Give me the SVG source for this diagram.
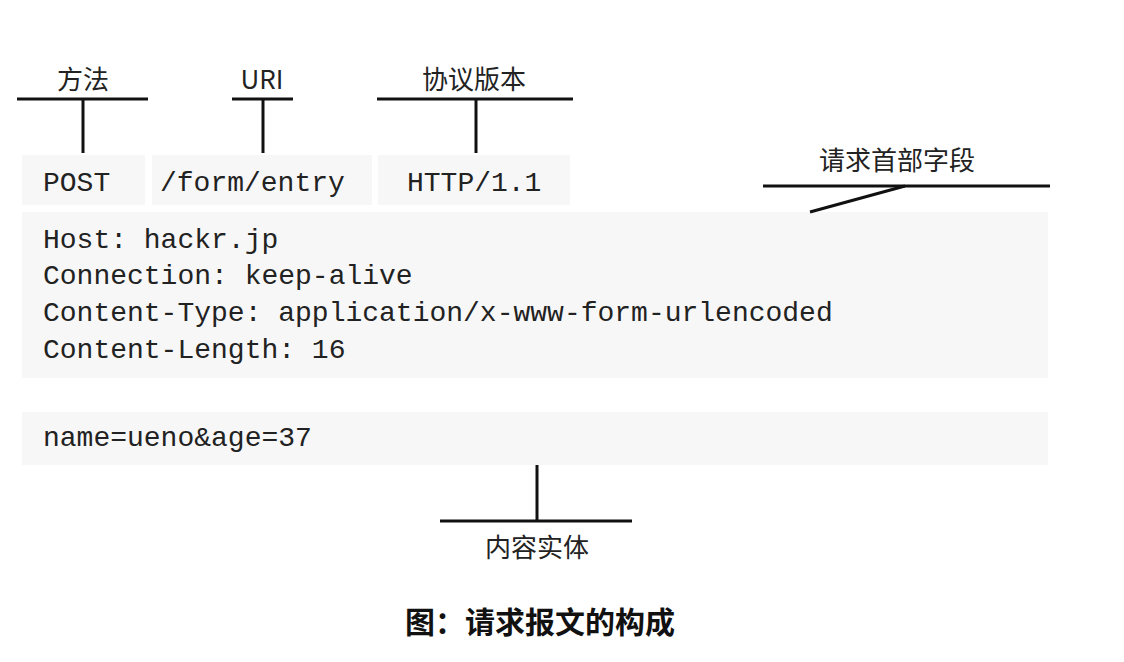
<svg xmlns="http://www.w3.org/2000/svg" width="1124" height="662" viewBox="0 0 1124 662">
<style>
.bg{fill:#f7f7f7}
.ln{stroke:#111;stroke-width:3;fill:none;stroke-linecap:butt}
.lbl{font-family:"Noto Sans CJK SC","Noto Sans",sans-serif;font-size:26px;fill:#222;text-anchor:middle}
.mono{font-family:"Liberation Mono",monospace;font-size:28px;fill:#222}
.cap{font-family:"Noto Sans CJK SC",sans-serif;font-size:30px;font-weight:bold;fill:#111;text-anchor:middle}
</style>
<rect width="1124" height="662" fill="#ffffff"/>
<g id="request-line">
  <rect class="bg" x="22" y="155" width="123" height="50"/>
  <rect class="bg" x="152" y="155" width="220" height="50"/>
  <rect class="bg" x="378" y="155" width="192" height="50"/>
  <text class="mono" x="43" y="191">POST</text>
  <text class="mono" x="160" y="191">/form/entry</text>
  <text class="mono" x="407" y="191">HTTP/1.1</text>
</g>
<g id="headers">
  <rect class="bg" x="22" y="212" width="1026" height="166"/>
  <text class="mono" x="43" y="248">Host: hackr.jp</text>
  <text class="mono" x="43" y="284">Connection: keep-alive</text>
  <text class="mono" x="43" y="321">Content-Type: application/x-www-form-urlencoded</text>
  <text class="mono" x="43" y="358">Content-Length: 16</text>
</g>
<g id="body">
  <rect class="bg" x="22" y="412" width="1026" height="53"/>
  <text class="mono" x="43" y="446">name=ueno&amp;age=37</text>
</g>
<g id="label-method">
  <text class="lbl" x="83" y="89">方法</text>
</g>
<g id="label-uri">
  <text class="lbl" x="262" y="89">URI</text>
</g>
<g id="label-version">
  <text class="lbl" x="474" y="89">协议版本</text>
</g>
<g id="label-headers">
  <text class="lbl" x="897" y="170">请求首部字段</text>
</g>
<g id="label-body">
  <text class="lbl" x="537" y="557">内容实体</text>
</g>
<g id="connectors">
  <line class="ln" x1="17" y1="99" x2="148" y2="99"/>
  <line class="ln" x1="83" y1="99" x2="83" y2="153"/>
  <line class="ln" x1="232" y1="99" x2="293" y2="99"/>
  <line class="ln" x1="263" y1="99" x2="263" y2="153"/>
  <line class="ln" x1="377" y1="99" x2="573" y2="99"/>
  <line class="ln" x1="476" y1="99" x2="476" y2="153"/>
  <line class="ln" x1="763" y1="186" x2="1050" y2="186"/>
  <line class="ln" x1="905" y1="186" x2="810" y2="212"/>
  <line class="ln" x1="537" y1="465" x2="537" y2="521"/>
  <line class="ln" x1="440" y1="521" x2="632" y2="521"/>
</g>
<text class="cap" x="540" y="633">图：请求报文的构成</text>
</svg>
